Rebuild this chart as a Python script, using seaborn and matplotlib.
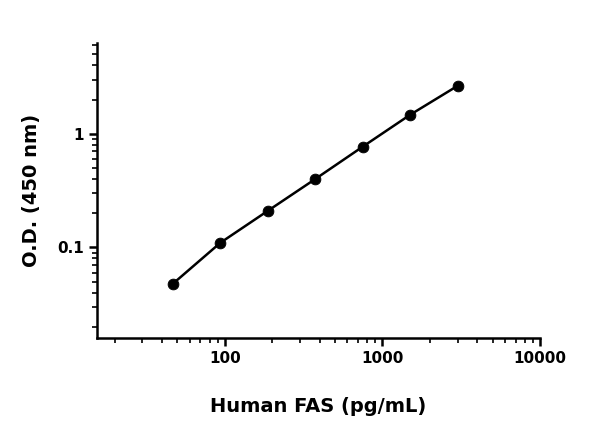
import matplotlib
matplotlib.use("Agg")
import matplotlib.pyplot as plt
import seaborn as sns
import pandas as pd

conc = [46.875, 93.75, 187.5, 375, 750, 1500, 3000]
od = [0.048, 0.11, 0.21, 0.40, 0.77, 1.47, 2.64]
df = pd.DataFrame({"conc": conc, "od": od})

sns.set_style("ticks")
plt.rcParams['font.family'] = ['DejaVu Sans']
for k in ["text.color", "axes.labelcolor", "xtick.color", "ytick.color", "axes.edgecolor"]:
    plt.rcParams[k] = "black"
fig = plt.figure(figsize=(6, 4.47), dpi=100)
ax = fig.add_axes([0.162, 0.244, 0.738, 0.66])
sns.lineplot(data=df, x="conc", y="od", color="black", lw=1.8, ax=ax)
sns.scatterplot(data=df, x="conc", y="od", color="black", s=60, edgecolor="black", zorder=3, ax=ax)
ax.set_xscale("log"); ax.set_yscale("log")
ax.set_xlim(15.5, 10000); ax.set_ylim(0.016, 6.3)
ax.set_xticks([100, 1000, 10000]); ax.set_xticklabels(["100", "1000", "10000"])
ax.set_yticks([0.1, 1]); ax.set_yticklabels(["0.1", "1"])
for s in ["top", "right"]:
    ax.spines[s].set_visible(False)
for s in ["left", "bottom"]:
    ax.spines[s].set_linewidth(1.8)
ax.tick_params(which="major", width=1.8, length=6, labelsize=11)
ax.tick_params(which="minor", width=1.2, length=3.5)
for l in ax.get_xticklabels() + ax.get_yticklabels():
    l.set_fontweight("bold")
ax.set_xlabel("Human FAS (pg/mL)", fontsize=14, fontweight="bold", labelpad=22)
ax.set_ylabel("O.D. (450 nm)", fontsize=14, fontweight="bold", labelpad=12)
fig.savefig("out.png", dpi=100)
